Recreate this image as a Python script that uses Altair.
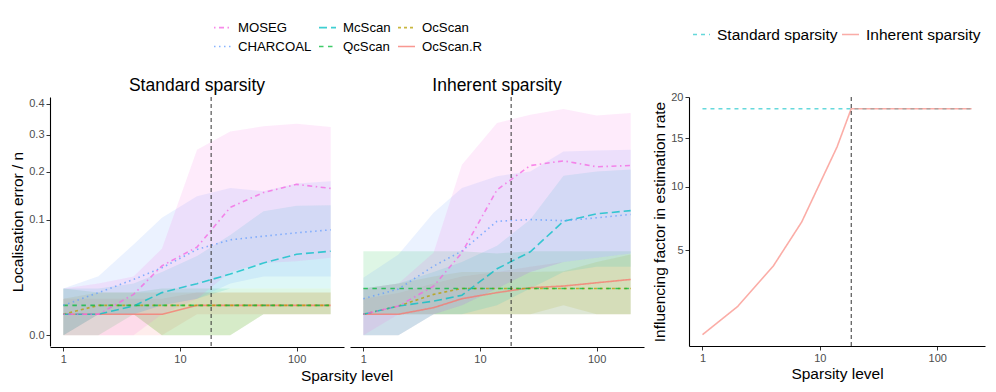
import altair as alt
import pandas as pd

# ---------------- data ----------------
methods = ["MOSEG", "CHARCOAL", "McScan", "QcScan", "OcScan", "OcScan.R"]
legend_order = ["MOSEG", "McScan", "OcScan", "CHARCOAL", "QcScan", "OcScan.R"]
draw_order = ["OcScan.R", "OcScan", "QcScan", "McScan", "CHARCOAL", "MOSEG"]
method_colors = {"MOSEG": "#F564E3", "CHARCOAL": "#619CFF", "McScan": "#00BFC4",
                 "QcScan": "#00BA38", "OcScan": "#B79F00", "OcScan.R": "#F8766D"}
method_dashes = {"MOSEG": [1.5, 3.5, 5, 3.5], "CHARCOAL": [1.5, 3.5], "McScan": [8, 4],
                 "QcScan": [4.5, 4.5], "OcScan": [3, 3], "OcScan.R": [1, 0]}

panels = ["Standard sparsity", "Inherent sparsity"]
x_levels = [1, 2, 4, 7, 14, 27, 52, 100, 196]
threshold = 18.5

# Standard sparsity: line (median), lower and upper band
std_MOSEG_y = [0.0033, 0.0033, 0.0125, 0.036, 0.058, 0.122, 0.152, 0.170, 0.161]
std_MOSEG_lo = [0, 0, 0, 0.0033, 0.0100, 0.030, 0.039, 0.041, 0.045]
std_MOSEG_hi = [0.0164, 0.0200, 0.0259, 0.056, 0.257, 0.310, 0.326, 0.334, 0.324]
std_CHARCOAL_y = [0.0067, 0.0136, 0.0233, 0.034, 0.055, 0.068, 0.0733, 0.0784, 0.0830]
std_CHARCOAL_lo = [0, 0.0033, 0.0033, 0.0067, 0.0100, 0.0200, 0.0259, 0.0259, 0.0259]
std_CHARCOAL_hi = [0.0164, 0.0261, 0.0615, 0.103, 0.144, 0.162, 0.155, 0.172, 0.177]
std_McScan_y = [0.0033, 0.0033, 0.0064, 0.0136, 0.0199, 0.0280, 0.0390, 0.0490, 0.0528]
std_McScan_lo = [0, 0.0033, 0.0033, 0.0067, 0.0100, 0.0164, 0.0164, 0.0164, 0.0164]
std_McScan_hi = [0.0164, 0.0164, 0.0200, 0.0300, 0.047, 0.075, 0.115, 0.125, 0.126]
std_QcScan_y = [0.0067, 0.0067, 0.0067, 0.0067, 0.0067, 0.0067, 0.0067, 0.0067, 0.0067]
std_QcScan_lo = [0, 0, 0.0033, 0, 0, 0, 0.0033, 0.0033, 0.0033]
std_QcScan_hi = [0.0164, 0.0136, 0.0136, 0.0164, 0.0164, 0.0164, 0.0164, 0.0164, 0.0164]
std_OcScan_y = [0.0033, 0.0067, 0.0067, 0.0067, 0.0067, 0.0067, 0.0067, 0.0067, 0.0067]
std_OcScan_lo = [0, 0.0033, 0.0033, 0, 0, 0, 0.0033, 0.0033, 0.0033]
std_OcScan_hi = [0.0100, 0.0136, 0.0136, 0.0136, 0.0136, 0.0136, 0.0136, 0.0136, 0.0136]
std_OcScanR_y = [0.0033, 0.0033, 0.0033, 0.0033, 0.0067, 0.0067, 0.0067, 0.0067, 0.0067]
std_OcScanR_lo = [0, 0, 0, 0, 0.0033, 0.0033, 0.0033, 0.0033, 0.0033]
std_OcScanR_hi = [0.0100, 0.0100, 0.0100, 0.0100, 0.0136, 0.0136, 0.0136, 0.0136, 0.0136]

# Inherent sparsity
inh_MOSEG_y = [0.0033, 0.0064, 0.018, 0.051, 0.158, 0.215, 0.227, 0.212, 0.215]
inh_MOSEG_lo = [0, 0.0033, 0.0033, 0.0067, 0.0164, 0.030, 0.040, 0.045, 0.050]
inh_MOSEG_hi = [0.0164, 0.0200, 0.051, 0.217, 0.336, 0.363, 0.382, 0.360, 0.369]
inh_CHARCOAL_y = [0.0100, 0.0160, 0.0357, 0.053, 0.097, 0.100, 0.098, 0.103, 0.109]
inh_CHARCOAL_lo = [0, 0, 0.0033, 0.0067, 0.0164, 0.030, 0.040, 0.045, 0.050]
inh_CHARCOAL_hi = [0.0247, 0.0488, 0.112, 0.162, 0.189, 0.200, 0.252, 0.255, 0.257]
inh_McScan_y = [0.0033, 0.0064, 0.0087, 0.012, 0.033, 0.052, 0.097, 0.110, 0.116]
inh_McScan_lo = [0, 0, 0.0033, 0.0033, 0.0067, 0.0164, 0.030, 0.035, 0.035]
inh_McScan_hi = [0.0164, 0.0200, 0.0300, 0.0400, 0.060, 0.100, 0.190, 0.200, 0.205]
inh_QcScan_y = [0.0164, 0.0164, 0.0164, 0.0164, 0.0164, 0.0164, 0.0164, 0.0164, 0.0164]
inh_QcScan_lo = [0.0033, 0.0033, 0.0033, 0.0033, 0.0033, 0.0033, 0.0033, 0.0033, 0.0033]
inh_QcScan_hi = [0.0528, 0.0528, 0.0528, 0.0528, 0.0500, 0.0528, 0.0528, 0.0528, 0.0528]
inh_OcScan_y = [0.0033, 0.0064, 0.0125, 0.0164, 0.0164, 0.0164, 0.0164, 0.0164, 0.0164]
inh_OcScan_lo = [0.0033, 0.0033, 0.0033, 0.0033, 0.0033, 0.0033, 0.0067, 0.0033, 0.0033]
inh_OcScan_hi = [0.0164, 0.0200, 0.0259, 0.0300, 0.0300, 0.0300, 0.0307, 0.0400, 0.0488]
inh_OcScanR_y = [0.0033, 0.0033, 0.0057, 0.0100, 0.0136, 0.0169, 0.0181, 0.0206, 0.0233]
inh_OcScanR_lo = [0, 0, 0.0033, 0.0033, 0.0033, 0.0033, 0.0033, 0.0033, 0.0033]
inh_OcScanR_hi = [0.0100, 0.0133, 0.0200, 0.0259, 0.0300, 0.0350, 0.0400, 0.0450, 0.0500]

series = {
    ("Standard sparsity", "MOSEG"): (std_MOSEG_y, std_MOSEG_lo, std_MOSEG_hi),
    ("Standard sparsity", "CHARCOAL"): (std_CHARCOAL_y, std_CHARCOAL_lo, std_CHARCOAL_hi),
    ("Standard sparsity", "McScan"): (std_McScan_y, std_McScan_lo, std_McScan_hi),
    ("Standard sparsity", "QcScan"): (std_QcScan_y, std_QcScan_lo, std_QcScan_hi),
    ("Standard sparsity", "OcScan"): (std_OcScan_y, std_OcScan_lo, std_OcScan_hi),
    ("Standard sparsity", "OcScan.R"): (std_OcScanR_y, std_OcScanR_lo, std_OcScanR_hi),
    ("Inherent sparsity", "MOSEG"): (inh_MOSEG_y, inh_MOSEG_lo, inh_MOSEG_hi),
    ("Inherent sparsity", "CHARCOAL"): (inh_CHARCOAL_y, inh_CHARCOAL_lo, inh_CHARCOAL_hi),
    ("Inherent sparsity", "McScan"): (inh_McScan_y, inh_McScan_lo, inh_McScan_hi),
    ("Inherent sparsity", "QcScan"): (inh_QcScan_y, inh_QcScan_lo, inh_QcScan_hi),
    ("Inherent sparsity", "OcScan"): (inh_OcScan_y, inh_OcScan_lo, inh_OcScan_hi),
    ("Inherent sparsity", "OcScan.R"): (inh_OcScanR_y, inh_OcScanR_lo, inh_OcScanR_hi),
}

# Right panel: influencing factor in estimation rate
rate_x = [1, 2, 4, 7, 14, 18.5, 27, 52, 100, 196]
rate_standard = [18.5, 18.5, 18.5, 18.5, 18.5, 18.5, 18.5, 18.5, 18.5, 18.5]
rate_inherent = [1, 2, 4, 7, 14, 18.5, 18.5, 18.5, 18.5, 18.5]
rate_types = ["Standard sparsity", "Inherent sparsity"]
rate_colors = ["#00BFC4", "#F8766D"]
rate_dashes = [[4, 4], [1, 0]]

# ---------------- build tables ----------------
ZW = "\u200b"  # separate key for the band fills so the line legend is not merged away
rows = []
for p in panels:
    for k, m in enumerate(draw_order):
        ys, los, his = series[(p, m)]
        for i, xv in enumerate(x_levels):
            rows.append({"panel": p, "method": m, "method_f": m + ZW, "ord": k,
                         "x": xv, "y": ys[i], "lo": los[i], "hi": his[i]})
df = pd.DataFrame(rows)

rrows = []
for i, xv in enumerate(rate_x):
    rrows.append({"x": xv, "factor": rate_standard[i], "type": "Standard sparsity"})
for i, xv in enumerate(rate_x):
    rrows.append({"x": xv, "factor": rate_inherent[i], "type": "Inherent sparsity"})
rdf = pd.DataFrame(rrows)

FONT = "Liberation Sans"
xscale = alt.Scale(type="log", domain=[0.768, 255], nice=False)
yscale = alt.Scale(type="sqrt", domain=[-0.00085, 0.4236], nice=False, zero=False)
xaxis = alt.Axis(values=[1, 10, 100], format="d", title=None)

col_range = [method_colors[m] for m in legend_order]
dash_range = [method_dashes[m] for m in legend_order]

area = alt.Chart().mark_area(opacity=0.13).encode(
    x=alt.X("x:Q", scale=xscale, axis=xaxis),
    y=alt.Y("lo:Q", scale=yscale,
            axis=alt.Axis(values=[0, 0.1, 0.2, 0.3, 0.4], format=".1f",
                          title="Localisation error / n")),
    y2="hi:Q",
    fill=alt.Fill("method_f:N",
                  scale=alt.Scale(domain=[m + ZW for m in legend_order], range=col_range),
                  legend=None),
    order=alt.Order("ord:Q"),
)

line_leg = alt.Legend(orient="none", legendX=163, legendY=-79, columns=3,
                      direction="horizontal", title=None, symbolSize=289,
                      symbolType="stroke", symbolStrokeWidth=1.6, symbolOpacity=0.75,
                      labelFontSize=13.2, labelFont=FONT, labelColor="black",
                      labelOffset=6, rowPadding=3, columnPadding=3, padding=0)
line = alt.Chart().mark_line(strokeWidth=1.6, opacity=0.75).encode(
    x=alt.X("x:Q", scale=xscale, axis=xaxis),
    y=alt.Y("y:Q", scale=yscale),
    stroke=alt.Stroke("method:N", scale=alt.Scale(domain=legend_order, range=col_range),
                      legend=line_leg),
    strokeDash=alt.StrokeDash("method:N", scale=alt.Scale(domain=legend_order, range=dash_range),
                              legend=line_leg),
    order=alt.Order("ord:Q"),
)

vline = alt.Chart().mark_rule(strokeDash=[4, 3], color="#333333", strokeWidth=1).encode(
    x=alt.datum(threshold)
).transform_filter("datum.method == 'MOSEG' && datum.x == 1")

left = alt.layer(area, line, vline, data=df).properties(
    width=294, height=249
).facet(
    column=alt.Column("panel:N", sort=panels, title="Sparsity level",
                      header=alt.Header(labelOrient="top", labelFontSize=17.5,
                                        labelColor="black", labelFont=FONT,
                                        labelPadding=2, titleOrient="bottom",
                                        titleFontSize=15.5, titleFontWeight="normal",
                                        titleColor="black", titleFont=FONT,
                                        titlePadding=-5)),
    spacing=6,
)

rxscale = alt.Scale(type="log", domain=[0.768, 255], nice=False)
ryscale = alt.Scale(type="sqrt", domain=[0.697, 20], nice=False, zero=False)
r_leg = alt.Legend(orient="none", legendX=-4, legendY=-79, columns=2, direction="horizontal",
                   title=None, symbolType="stroke", symbolSize=289, symbolStrokeWidth=1.6,
                   symbolOpacity=0.6, labelFontSize=15.5, labelFont=FONT, labelColor="black",
                   labelOffset=6, columnPadding=0, padding=7)
rline = alt.Chart().mark_line(strokeWidth=1.6, opacity=0.6).encode(
    x=alt.X("x:Q", scale=rxscale, axis=alt.Axis(values=[1, 10, 100], format="d",
                                               title="Sparsity level")),
    y=alt.Y("factor:Q", scale=ryscale,
            axis=alt.Axis(values=[5, 10, 15, 20], format="d",
                          title="Influencing factor in estimation rate")),
    stroke=alt.Stroke("type:N", scale=alt.Scale(domain=rate_types, range=rate_colors),
                      legend=r_leg),
    strokeDash=alt.StrokeDash("type:N", scale=alt.Scale(domain=rate_types, range=rate_dashes),
                              legend=r_leg),
)
rvline = alt.Chart().mark_rule(strokeDash=[4, 3], color="#333333", strokeWidth=1).encode(
    x=alt.datum(threshold)
).transform_filter("datum.type == 'Standard sparsity' && datum.x == 1")
right = alt.layer(rline, rvline, data=rdf).properties(width=296, height=249)

chart = alt.hconcat(left, right, spacing=8).resolve_scale(
    x="independent", y="independent", stroke="independent",
    strokeDash="independent", fill="independent"
).properties(
    padding={"left": 2, "top": 10, "right": 0, "bottom": 2}
).configure(font=FONT).configure_view(stroke=None).configure_axis(
    domainColor="black", domainWidth=1.1, tickColor="#333333", tickSize=4, tickWidth=1,
    labelFontSize=11, labelColor="#4D4D4D", labelFont=FONT, labelPadding=2,
    titleFontSize=15.5, titleFontWeight="normal", titleColor="black", titleFont=FONT,
    titlePadding=3, grid=False,
)

chart.save("out.html", embed_options={"renderer": "svg", "actions": False})
